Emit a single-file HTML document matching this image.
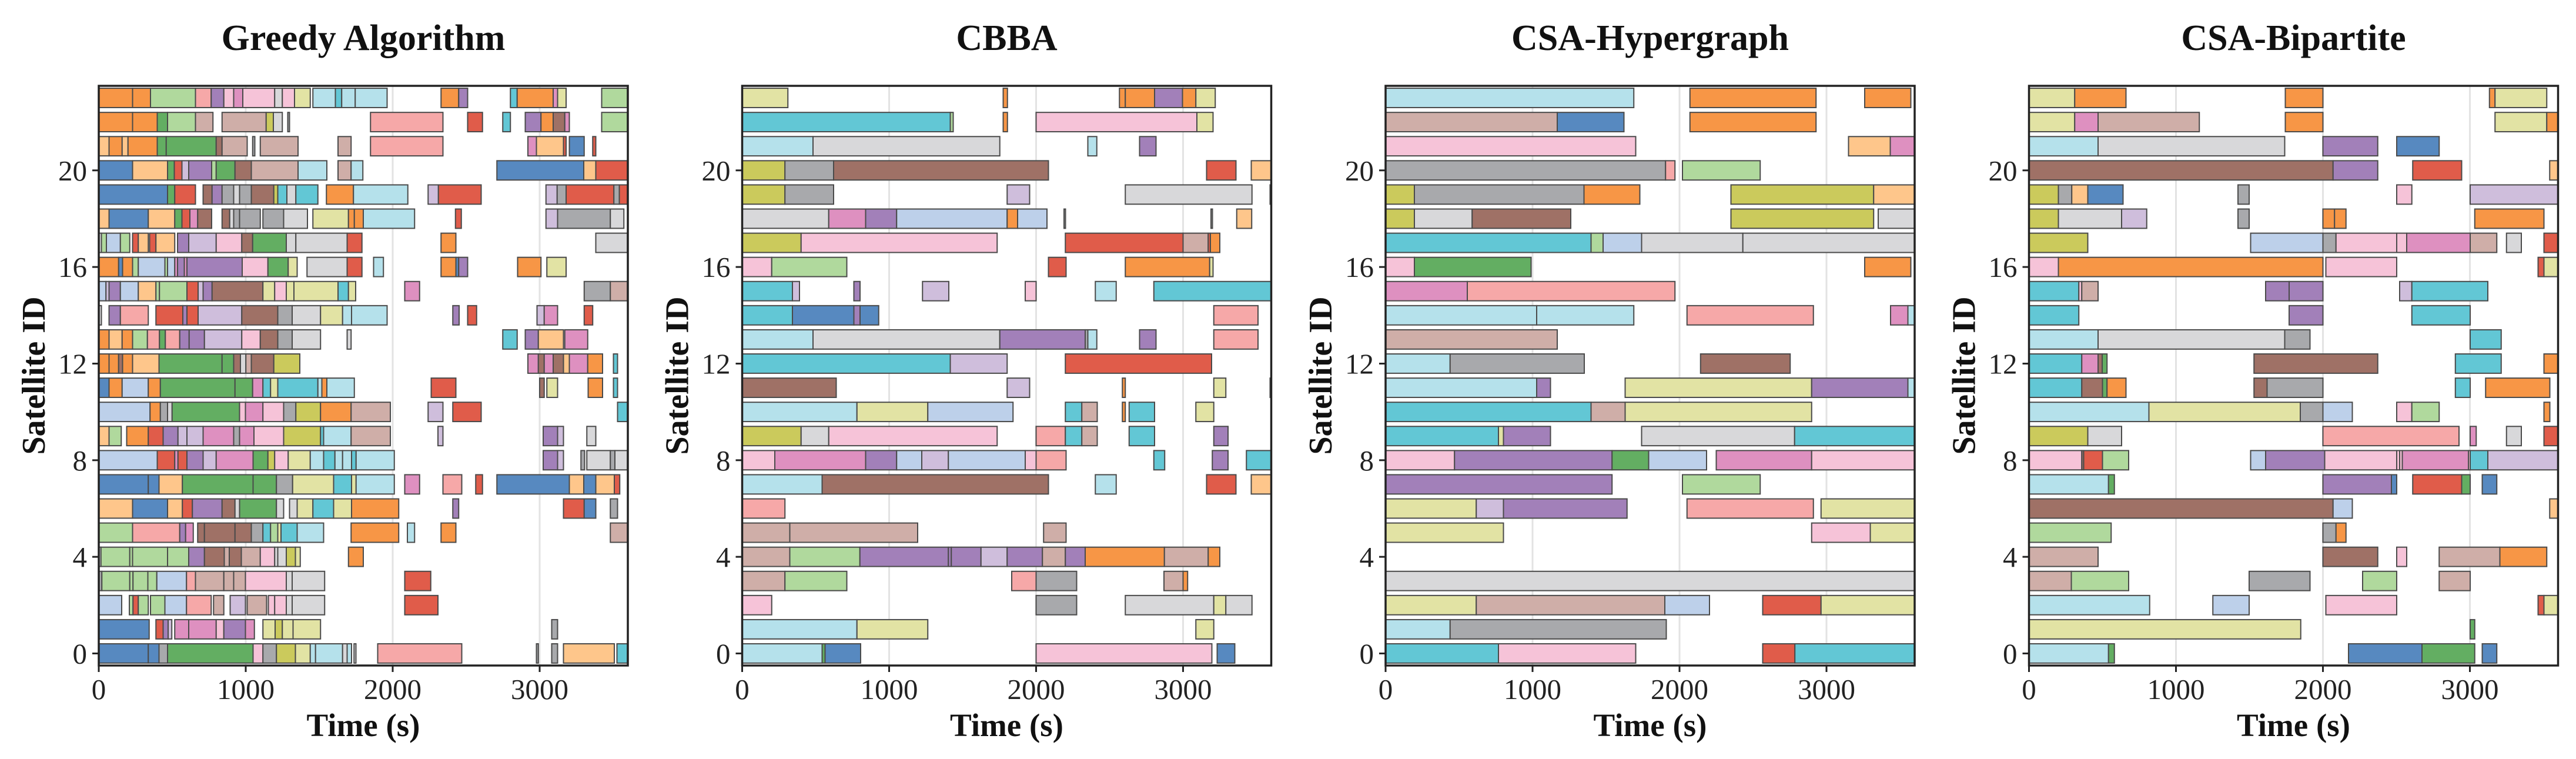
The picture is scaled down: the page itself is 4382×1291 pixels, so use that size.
<!DOCTYPE html>
<html><head><meta charset="utf-8">
<style>
html,body{margin:0;padding:0;background:#fff;}
svg{display:block;font-family:"Liberation Serif",serif;}
</style></head>
<body>
<svg id="chart" width="4382" height="1291" viewBox="0 0 4382 1291" xmlns="http://www.w3.org/2000/svg"></svg>
<script>
const panelTitles = ["Greedy Algorithm","CBBA","CSA-Hypergraph","CSA-Bipartite"];
const xTicks = [0,1000,2000,3000];
const yTicks = [0,4,8,12,16,20];
const colorMap = {B:"#5789c0",b:"#bdd0ea",O:"#f79646",o:"#fec68b",G:"#63ae62",g:"#b0d99d",R:"#e05c4a",r:"#f6a8a8",P:"#a280b9",p:"#cfbedc",N:"#9f7166",n:"#cfaea8",K:"#de90c0",k:"#f6c3d8",A:"#a8a9ac",a:"#d8d8da",Y:"#cbca5c",y:"#e2e3a4",C:"#62c7d5",c:"#b5e1eb"};
// rows[i] = satellite i; segments "start-end:color"
const greedyRows = [
"0-337:B 337-410:B 410-468:A 468-1050:G 1050-1117:k 1117-1209:A 1209-1338:Y 1338-1439:y 1439-1475:c 1475-1659:c 1659-1690:a 1690-1720:c 1737-1750:a 1898-2470:r 2978-2991:A 3082-3122:A 3162-3508:o 3526-3597:C",
"0-343:B 389-438:R 438-472:P 472-497:p 517-612:K 612-799:K 799-851:k 851-998:P 998-1059:K 1117-1200:y 1200-1249:Y 1249-1322:y 1322-1509:y 3082-3122:A",
"0-156:b 208-233:g 233-269:R 269-337:g 352-450:g 450-597:b 597-765:r 781-851:n 894-998:p 1010-1142:n 1154-1197:k 1197-1276:k 1276-1316:a 1316-1537:a 2082-2308:R",
"0-21:A 21-211:g 211-233:g 233-334:g 334-395:g 395-597:b 597-658:r 658-851:n 851-918:n 918-998:n 998-1276:k 1276-1316:a 1316-1537:a 2082-2259:R",
"0-15:a 15-211:g 211-230:g 230-468:g 468-612:g 612-719:P 719-854:N 854-888:n 888-970:N 970-1099:n 1099-1197:k 1197-1218:a 1218-1276:a 1276-1338:Y 1338-1371:y 1699-1800:O",
"0-230:g 230-551:r 551-591:P 591-643:K 673-719:N 719-927:N 927-1038:N 1038-1117:A 1117-1169:C 1169-1218:g 1218-1240:y 1240-1350:C 1350-1530:c 1717-2041:O 2100-2149:c 2329-2430:O 3481-3597:n",
"0-230:o 230-468:B 468-569:o 569-637:R 637-839:P 839-927:N 927-958:a 958-1209:G 1209-1258:a 1298-1350:a 1350-1457:y 1457-1598:C 1598-1720:y 1720-2041:O 2409-2449:P 3162-3303:R 3303-3382:B 3481-3530:A",
"0-337:B 337-410:B 410-569:o 569-1050:G 1050-1209:G 1209-1319:A 1319-1598:y 1598-1720:C 1720-1751:y 1751-2011:c 2082-2183:K 2342-2470:r 2565-2611:R 2709-3202:B 3202-3300:o 3300-3382:B 3382-3508:o 3508-3545:R",
"0-398:b 398-517:R 517-539:K 539-600:R 600-710:P 710-799:p 799-1050:K 1050-1151:G 1151-1197:Y 1197-1289:k 1289-1439:y 1439-1530:c 1530-1607:C 1607-1659:c 1659-1720:c 1720-1751:C 1751-2011:c 3024-3122:P 3122-3162:p 3281-3306:A 3321-3481:a 3481-3512:A 3512-3597:a",
"0-70:o 70-153:g 190-337:O 337-438:R 438-539:P 539-600:p 600-710:p 710-918:K 918-958:A 958-1056:K 1056-1258:k 1258-1509:Y 1509-1530:C 1530-1717:c 1717-1984:n 2308-2342:p 3024-3122:P 3122-3162:p 3321-3382:a",
"0-349:b 349-419:O 419-468:A 468-499:a 499-958:G 958-998:k 998-1117:K 1117-1258:k 1258-1341:A 1341-1509:Y 1509-1717:O 1717-1984:n 2241-2342:p 2409-2602:R 3530-3597:C",
"0-70:B 70-159:O 159-337:b 337-419:O 419-927:G 927-1047:G 1047-1117:K 1117-1169:C 1169-1218:y 1218-1491:C 1491-1518:c 1518-1552:O 1552-1739:c 2262-2430:R 3000-3031:N 3049-3122:y 3330-3428:O 3502-3530:C",
"0-70:O 70-135:O 135-162:N 162-230:O 230-410:o 410-839:G 839-918:G 918-964:N 964-1001:a 1001-1038:n 1038-1191:N 1191-1368:Y 2920-2991:K 2991-3031:N 3031-3092:K 3092-3162:N 3162-3202:o 3202-3327:K 3327-3428:O 3502-3530:C",
"0-70:O 70-159:o 159-230:O 230-331:g 331-413:r 413-453:G 453-551:r 551-615:P 615-719:P 719-973:p 973-1099:k 1099-1218:N 1218-1316:A 1316-1509:a 1690-1717:a 2749-2847:C 2902-2991:P 2991-3162:o 3171-3327:K",
"0-18:a 70-147:P 147-337:r 389-572:R 572-600:P 600-676:R 676-973:p 973-1218:N 1218-1316:A 1316-1509:a 1509-1659:y 1659-1720:c 1720-1962:c 2409-2452:P 2510-2571:R 2982-3031:p 3031-3122:K 3303-3361:R",
"0-49:b 49-70:p 70-147:P 147-269:b 269-389:o 389-413:g 413-600:g 600-676:R 676-710:p 710-771:P 771-1117:N 1117-1197:y 1197-1276:k 1276-1328:y 1328-1628:y 1628-1699:C 1699-1748:y 2082-2183:K 3303-3481:A 3481-3597:n",
"0-135:O 135-162:B 162-230:O 230-269:g 269-450:b 450-468:g 468-517:b 517-536:K 536-582:P 582-600:K 600-976:P 976-1151:k 1151-1289:G 1289-1350:y 1417-1690:a 1690-1791:R 1870-1937:c 2329-2430:O 2430-2449:B 2449-2510:P 2850-3009:O 3049-3180:y",
"0-18:a 18-52:g 52-147:b 147-211:g 230-269:R 269-337:o 346-389:R 389-517:o 536-612:P 612-799:p 799-973:k 973-1047:N 1047-1276:G 1276-1341:a 1341-1690:a 1690-1791:R 2329-2430:O 3382-3597:a",
"0-70:o 70-337:B 337-517:o 517-566:G 566-620:R 620-673:K 673-768:N 839-891:N 891-918:a 918-958:A 958-1099:A 1117-1258:A 1258-1420:a 1457-1699:y 1699-1739:O 1739-1800:O 1800-2149:c 2427-2467:R 3043-3122:p 3122-3481:A 3481-3573:a",
"0-468:B 468-517:G 517-658:R 710-771:N 771-839:P 839-918:A 918-958:a 958-1038:A 1038-1191:N 1191-1218:Y 1218-1280:C 1280-1341:a 1341-1491:C 1549-1733:O 1733-2103:c 2241-2311:p 2311-2602:R 3043-3119:p 3119-3180:A 3180-3505:R 3505-3542:A 3542-3597:R",
"0-230:B 230-468:o 468-514:G 514-566:R 566-612:p 612-768:P 768-799:g 799-927:G 927-1038:N 1038-1356:n 1356-1552:c 1628-1717:n 1717-1797:c 2709-3300:B 3300-3382:o 3382-3597:R",
"0-70:o 70-159:O 159-199:o 199-398:O 398-459:G 459-799:G 799-839:N 839-1010:n 1047-1062:A 1099-1356:n 1628-1717:n 1849-2342:r 2920-2978:K 2978-3162:o 3162-3180:R 3202-3303:B 3361-3382:R",
"0-230:O 230-398:O 398-468:G 468-658:g 658-777:n 839-1139:n 1139-1188:Y 1188-1249:a 1286-1298:A 1849-2342:r 2510-2611:R 2749-2801:C 2902-3009:P 3009-3092:O 3092-3171:N 3171-3202:K 3422-3597:g",
"0-230:O 230-352:O 352-658:g 658-765:r 765-851:P 851-918:k 918-980:K 980-1197:k 1197-1249:a 1249-1332:k 1332-1439:y 1457-1610:c 1610-1653:C 1653-1745:c 1745-1962:c 2329-2449:O 2449-2510:P 2801-2847:C 2847-3092:O 3092-3122:K 3122-3180:y 3422-3597:g"
];
const cbbaRows = [
"0-544:c 544-564:G 564-806:B 2000-3196:k 3232-3352:B",
"0-781:c 781-1263:y 3087-3209:y",
"0-201:k 2000-2276:A 2607-3209:a 3209-3291:y 3291-3469:a",
"0-291:n 291-712:g 1834-2000:r 2000-2276:A 2870-3000:n 3000-3031:O",
"0-324:n 324-801:g 801-1403:P 1403-1423:P 1423-1625:P 1625-1803:p 1803-2043:P 2043-2199:n 2199-2334:P 2334-2873:O 2873-3171:n 3171-3250:O",
"0-324:n 324-1194:n 2051-2204:n",
"0-291:r",
"0-544:c 544-2084:N 2403-2545:c 3160-3360:R 3464-3600:o",
"0-222:k 222-840:K 840-1051:P 1051-1222:b 1222-1403:p 1403-1926:b 1926-2000:k 2000-2204:r 2801-2875:C 3199-3306:P 3431-3600:C",
"0-401:Y 401-589:a 589-1735:k 2000-2199:r 2199-2311:C 2311-2416:n 2633-2806:C 3209-3306:P",
"0-781:c 781-1263:y 1263-1843:b 2199-2311:C 2311-2416:n 2587-2607:O 2633-2806:C 3087-3209:y",
"0-640:N 1803-1956:p 2587-2607:O 3209-3291:y 3592-3600:A",
"0-1416:C 1416-1803:p 2199-3194:R",
"0-482:c 482-1753:a 1753-2334:P 2334-2352:A 2352-2413:c 2704-2816:P 3209-3510:r",
"0-342:C 342-760:B 760-802:P 802-929:B 3209-3510:r",
"0-342:C 342-390:p 760-802:P 1227-1406:p 1926-2000:k 2403-2545:c 2801-3600:C",
"0-201:k 201-712:g 2084-2204:R 2607-3181:O 3181-3204:y",
"0-401:Y 401-1735:k 2199-3000:R 3000-3171:n 3171-3186:R 3186-3250:O",
"0-589:a 589-840:K 840-1051:P 1051-1803:b 1803-1874:O 1874-2074:b 2190-2200:A 3190-3200:A 3365-3467:o",
"0-291:Y 291-622:A 1803-1956:p 2607-3469:a 3592-3600:A",
"0-291:Y 291-622:A 622-2084:N 3160-3360:R 3464-3600:o",
"0-482:c 482-1753:a 2352-2413:c 2704-2816:P",
"0-1416:C 1416-1436:g 1776-1805:O 2000-3094:k 3094-3204:y",
"0-311:y 1776-1805:O 2567-2607:O 2607-2806:O 2806-2996:P 2996-3087:O 3087-3219:y"
];
const hyperRows = [
"0-768:C 768-1702:k 2566-2785:R 2785-3600:C",
"0-439:c 439-1910:A",
"0-617:y 617-1900:n 1900-2204:b 2566-2963:R 2963-3600:y",
"0-3600:a",
"",
"0-802:y 2899-3298:k 3298-3600:y",
"0-617:y 617-802:p 802-1643:P 2051-2911:r 2963-3600:y",
"0-1541:P 2020-2549:g",
"0-469:k 469-1541:P 1541-1790:G 1790-2184:b 2250-2899:K 2899-3600:k",
"0-768:C 768-802:y 802-1122:P 1742-2783:a 2783-3600:C",
"0-1398:C 1398-1630:n 1630-2899:y",
"0-1028:c 1028-1122:P 1630-2899:y 2899-3554:P 3554-3600:c",
"0-439:c 439-1352:A 2143-2753:N",
"0-1168:n",
"0-1028:c 1028-1689:c 2051-2911:r 3436-3554:K 3554-3600:c",
"0-556:K 556-1969:r",
"0-196:k 196-990:G 3260-3574:O",
"0-1398:C 1398-1480:g 1480-1742:b 1742-2431:a 2431-3600:a",
"0-196:Y 196-589:a 589-1260:N 2350-3321:Y 3352-3600:a",
"0-196:Y 196-1350:A 1350-1730:O 2350-3321:Y 3321-3600:o",
"0-1905:A 1905-1969:r 2020-2549:g",
"0-1702:k 3150-3434:o 3434-3600:K",
"0-1168:n 1168-1622:B 2071-2929:O",
"0-1689:c 2071-2929:O 3260-3574:O"
];
const bipRows = [
"0-541:c 541-581:G 2174-2674:B 2674-3033:G 3084-3183:B",
"0-1849:y 3002-3033:G",
"0-821:c 1251-1498:b 2020-2502:k 3464-3504:R 3504-3600:y",
"0-288:n 288-678:g 1498-1912:A 2270-2502:g 2791-3002:n",
"0-470:n 2000-2373:N 2502-2570:k 2791-3204:n 3204-3523:O",
"0-559:g 2000-2089:A 2089-2157:O",
"0-2069:N 2069-2200:b 3543-3600:o",
"0-541:c 541-581:G 2000-2466:P 2466-2502:B 2611-2944:R 2944-3002:G 3084-3183:B",
"0-359:k 359-372:N 372-500:R 500-678:g 1508-1610:b 1610-2012:P 2012-2502:k 2502-2522:k 2522-2540:k 2540-2990:K 2990-3002:k 3002-3122:C 3122-3600:p",
"0-400:Y 400-630:a 2000-2926:r 3002-3043:K 3249-3350:a 3504-3600:R",
"0-816:c 816-1846:y 1846-2000:A 2000-2200:b 2502-2605:k 2605-2791:g 3504-3544:O",
"0-359:C 359-500:N 500-531:G 531-660:O 1531-1620:N 1620-2000:A 2901-3002:C 3107-3544:O",
"0-359:C 359-470:K 470-498:N 498-531:G 1531-2373:N 2901-3213:C 3504-3600:O",
"0-470:c 470-1740:a 1740-1912:A 3002-3213:C",
"0-339:C 1770-2000:P 2605-3002:C",
"0-339:C 339-359:k 359-470:n 1610-1770:P 1770-2000:P 2522-2605:p 2605-3122:C",
"0-200:k 200-2000:O 2020-2502:k 3464-3504:R 3504-3600:y",
"0-400:Y 1508-2000:b 2000-2089:A 2089-2502:k 2502-2570:k 2570-3002:K 3002-3183:n 3249-3350:a 3504-3600:R",
"0-200:Y 200-630:a 630-801:p 1422-1498:A 2000-2079:O 2079-2157:O 3033-3504:O",
"0-200:Y 200-291:A 291-400:o 400-640:B 1422-1498:A 2502-2605:k 3002-3600:p",
"0-2069:N 2069-2373:P 2611-2944:R 3543-3600:o",
"0-470:c 470-1740:a 2000-2373:P 2502-2791:B",
"0-311:y 311-470:K 470-1159:n 1744-2000:O 3171-3523:y 3523-3600:O",
"0-311:y 311-660:O 1744-2000:O 3133-3171:O 3171-3523:y"
];
const allRows = [greedyRows, cbbaRows, hyperRows, bipRows];
const panelLefts = [168, 1262.5, 2357, 3451.5];
const PW = 900, PT = 146, PH = 986, XMAX = 3600, YMIN = -0.5, YMAX = 23.5;
const NS = "http://www.w3.org/2000/svg";
const svg = document.getElementById('chart');
function mk(tag, attrs, parent){const e=document.createElementNS(NS,tag);for(const k in attrs)e.setAttribute(k,attrs[k]);(parent||svg).appendChild(e);return e;}
panelLefts.forEach((L, pi) => {
  const xs = t => L + t / XMAX * PW;
  const ys = v => PT + (YMAX - v) / (YMAX - YMIN) * PH;
  const g = mk('g', {});
  
  
  xTicks.forEach(t => {
    if (t === 0) return;
    const gl = mk('line', {x1: xs(t), x2: xs(t), y1: PT, y2: PT + PH, stroke: '#e3e3e3', 'stroke-width': 3}, g);
    
    
  });
  const bh = 0.8 * PH / (YMAX - YMIN);
  allRows[pi].forEach((row, sat) => {
    row.split(' ').filter(s => s).forEach(seg => {
      const m = seg.match(/^(\d+)-(\d+):(\w)$/);
      const s = +m[1], e = Math.min(+m[2], XMAX);
      const r = mk('rect', {x: xs(s), y: ys(sat) - bh / 2, width: Math.max(xs(e) - xs(s), 1), height: bh, fill: colorMap[m[3]], stroke: '#4a4a4a', 'stroke-width': 2}, g);
      
      
    });
  });
  const fr = mk('rect', {x: L, y: PT, width: PW, height: PH, fill: 'none', stroke: '#222', 'stroke-width': 3.5}, g);
  
  
  xTicks.forEach(t => {
    mk('line', {x1: xs(t), x2: xs(t), y1: PT + PH, y2: PT + PH + 11, stroke: '#222', 'stroke-width': 3}, g);
    const tx = mk('text', {x: xs(t), y: PT + PH + 57, 'font-size': 49, 'text-anchor': 'middle', fill: '#222'}, g);
    tx.textContent = t;
    
    
  });
  yTicks.forEach(v => {
    mk('line', {x1: L - 11, x2: L, y1: ys(v), y2: ys(v), stroke: '#222', 'stroke-width': 3}, g);
    const ty = mk('text', {x: L - 20, y: ys(v) + 17, 'font-size': 49, 'text-anchor': 'end', fill: '#222'}, g);
    ty.textContent = v;
    
    
  });
  const tt = mk('text', {x: L + PW / 2, y: 85, 'font-size': 62, 'font-weight': 'bold', 'text-anchor': 'middle', fill: '#111'}, g);
  tt.textContent = panelTitles[pi];
  
  
  const xl = mk('text', {x: L + PW / 2, y: 1252, 'font-size': 55, 'font-weight': 'bold', 'text-anchor': 'middle', fill: '#111'}, g);
  xl.textContent = 'Time (s)';
  
  
  const yl = mk('text', {x: 0, y: 0, 'font-size': 56, 'font-weight': 'bold', 'text-anchor': 'middle', fill: '#111', transform: 'translate(' + (L - 92) + ',' + (PT + PH / 2) + ') rotate(-90)'}, g);
  yl.textContent = 'Satellite ID';
  
  
});
</script>
</body></html>
